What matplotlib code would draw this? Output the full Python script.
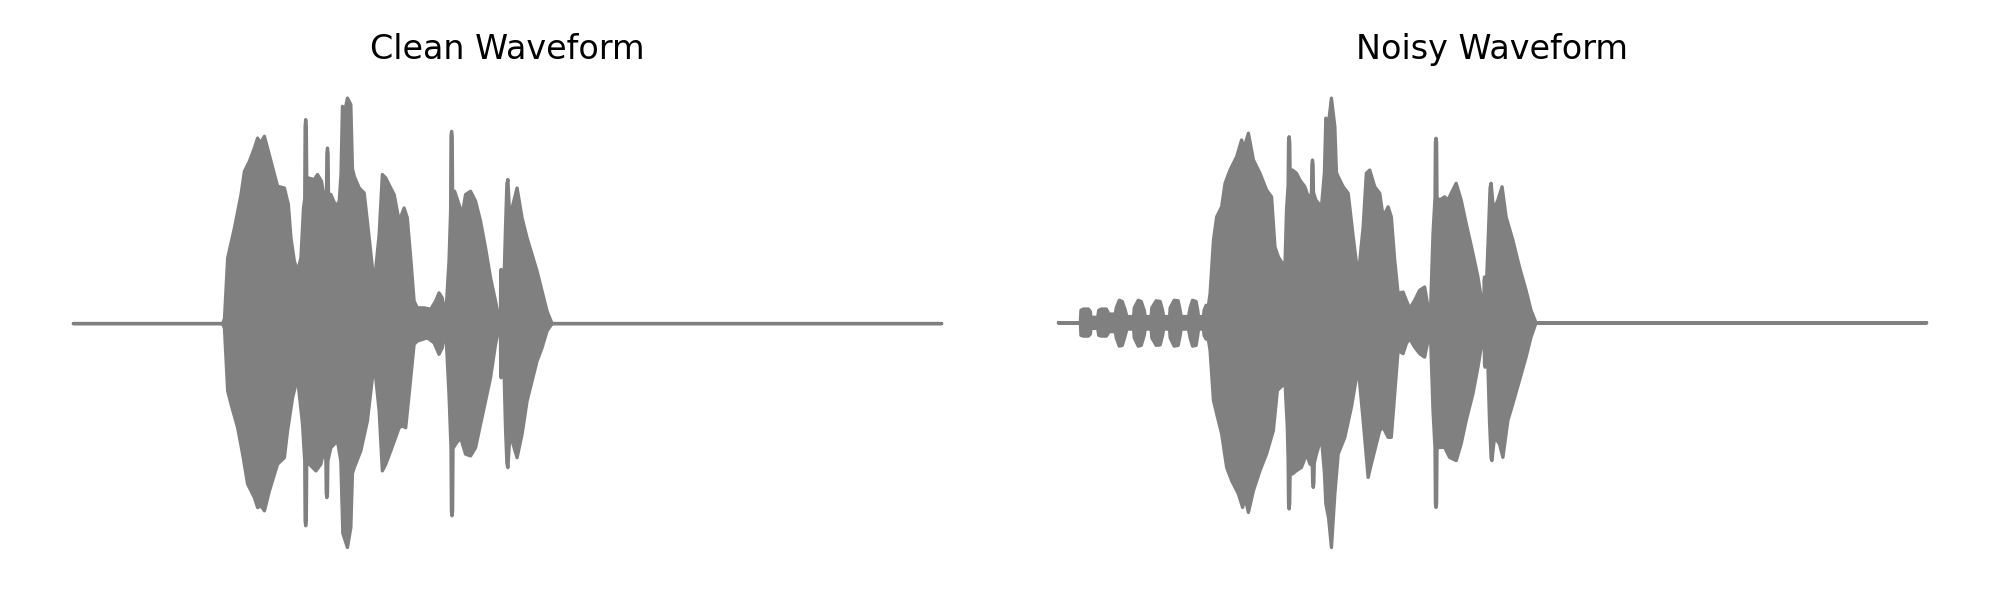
import matplotlib

matplotlib.use("Agg")
import matplotlib.pyplot as plt

# Envelopes of the two waveforms: (time s, amplitude)
DURATION = 4.35

clean_upper = [
    (0.0, 0.0), (0.748, 0.0), (0.757, 0.02), (0.773, 0.263), (0.79, 0.323), (0.807, 0.383),
    (0.84, 0.517), (0.857, 0.61), (0.882, 0.65), (0.907, 0.703), (0.923, 0.743), (0.937, 0.723),
    (0.957, 0.75), (0.99, 0.65), (1.023, 0.55), (1.057, 0.543), (1.077, 0.477), (1.09, 0.343),
    (1.107, 0.25), (1.123, 0.21), (1.14, 0.263), (1.153, 0.463), (1.159, 0.5), (1.161, 0.79),
    (1.164, 0.817), (1.167, 0.79), (1.169, 0.58), (1.177, 0.583), (1.207, 0.577), (1.223, 0.597),
    (1.243, 0.57), (1.257, 0.503), (1.268, 0.52), (1.27, 0.68), (1.273, 0.703), (1.276, 0.68),
    (1.278, 0.52), (1.29, 0.517), (1.315, 0.47), (1.332, 0.49), (1.341, 0.6), (1.348, 0.87),
    (1.362, 0.86), (1.373, 0.903), (1.39, 0.877), (1.398, 0.62), (1.407, 0.59), (1.432, 0.543),
    (1.457, 0.523), (1.482, 0.343), (1.507, 0.157), (1.532, 0.357), (1.548, 0.597), (1.565, 0.583),
    (1.59, 0.543), (1.607, 0.517), (1.632, 0.41), (1.657, 0.463), (1.673, 0.423), (1.69, 0.263),
    (1.707, 0.09), (1.723, 0.063), (1.757, 0.063), (1.79, 0.057), (1.815, 0.09), (1.832, 0.123),
    (1.848, 0.103), (1.865, 0.023), (1.882, 0.25), (1.89, 0.45), (1.892, 0.75), (1.895, 0.77),
    (1.898, 0.75), (1.9, 0.52), (1.91, 0.53), (1.932, 0.477), (1.948, 0.437), (1.965, 0.517),
    (1.99, 0.53), (2.015, 0.49), (2.04, 0.41), (2.065, 0.303), (2.09, 0.183), (2.115, 0.09),
    (2.132, 0.017), (2.14, 0.05), (2.141, 0.2), (2.143, 0.217), (2.145, 0.2), (2.146, 0.05),
    (2.153, 0.037), (2.165, 0.383), (2.172, 0.56), (2.177, 0.577), (2.184, 0.46), (2.198, 0.463),
    (2.223, 0.543), (2.248, 0.423), (2.273, 0.343), (2.298, 0.277), (2.323, 0.21), (2.348, 0.13),
    (2.373, 0.05), (2.398, 0.0), (DURATION, 0.0),
]

clean_lower = [
    (0.0, 0.0), (0.748, 0.0), (0.757, -0.02), (0.773, -0.27), (0.79, -0.323), (0.823, -0.417),
    (0.848, -0.523), (0.873, -0.643), (0.907, -0.697), (0.923, -0.737), (0.94, -0.73),
    (0.957, -0.75), (0.982, -0.67), (1.023, -0.563), (1.057, -0.537), (1.073, -0.43),
    (1.098, -0.297), (1.123, -0.217), (1.148, -0.403), (1.159, -0.55), (1.161, -0.79),
    (1.164, -0.81), (1.167, -0.79), (1.169, -0.56), (1.182, -0.563), (1.215, -0.59), (1.24, -0.563),
    (1.257, -0.497), (1.265, -0.55), (1.267, -0.68), (1.27, -0.697), (1.273, -0.68), (1.275, -0.55),
    (1.29, -0.497), (1.323, -0.47), (1.34, -0.55), (1.35, -0.84), (1.357, -0.857), (1.373, -0.897),
    (1.39, -0.817), (1.398, -0.6), (1.407, -0.577), (1.44, -0.51), (1.473, -0.39), (1.507, -0.157),
    (1.532, -0.35), (1.548, -0.59), (1.565, -0.563), (1.59, -0.51), (1.632, -0.417), (1.648, -0.41),
    (1.665, -0.417), (1.682, -0.283), (1.707, -0.083), (1.723, -0.07), (1.773, -0.057),
    (1.807, -0.077), (1.832, -0.123), (1.848, -0.097), (1.865, -0.017), (1.882, -0.283),
    (1.892, -0.5), (1.894, -0.75), (1.897, -0.77), (1.9, -0.75), (1.902, -0.5), (1.915, -0.483),
    (1.94, -0.457), (1.965, -0.523), (1.99, -0.53), (2.015, -0.497), (2.04, -0.403), (2.065, -0.31),
    (2.09, -0.217), (2.115, -0.083), (2.132, -0.017), (2.14, -0.05), (2.141, -0.2), (2.143, -0.217),
    (2.145, -0.2), (2.146, -0.05), (2.153, -0.043), (2.165, -0.417), (2.172, -0.56), (2.177, -0.577),
    (2.185, -0.47), (2.198, -0.47), (2.223, -0.537), (2.248, -0.443), (2.273, -0.31), (2.298, -0.23),
    (2.323, -0.15), (2.348, -0.097), (2.373, -0.03), (2.398, 0.0), (DURATION, 0.0),
]

noisy_upper = [
    (0.0, 0.0), (0.11, 0.0), (0.113, 0.05), (0.125, 0.055), (0.15, 0.055), (0.16, 0.045),
    (0.163, 0.022), (0.197, 0.022), (0.202, 0.05), (0.215, 0.055), (0.24, 0.055), (0.247, 0.045),
    (0.252, 0.035), (0.285, 0.035), (0.29, 0.06), (0.305, 0.09), (0.32, 0.085), (0.335, 0.05),
    (0.343, 0.025), (0.377, 0.025), (0.38, 0.06), (0.4, 0.09), (0.415, 0.085), (0.43, 0.05),
    (0.435, 0.025), (0.465, 0.025), (0.468, 0.06), (0.49, 0.088), (0.51, 0.085), (0.522, 0.05),
    (0.527, 0.025), (0.557, 0.025), (0.56, 0.06), (0.58, 0.09), (0.6, 0.088), (0.61, 0.05),
    (0.615, 0.025), (0.652, 0.025), (0.66, 0.06), (0.672, 0.09), (0.69, 0.085), (0.698, 0.05),
    (0.702, 0.025), (0.727, 0.025), (0.73, 0.05), (0.74, 0.07), (0.75, 0.06), (0.76, 0.117),
    (0.777, 0.33), (0.793, 0.423), (0.818, 0.463), (0.835, 0.557), (0.86, 0.61), (0.893, 0.663),
    (0.918, 0.73), (0.93, 0.697), (0.952, 0.757), (0.977, 0.65), (1.01, 0.597), (1.043, 0.53),
    (1.068, 0.503), (1.085, 0.303), (1.102, 0.263), (1.123, 0.237), (1.135, 0.223), (1.143, 0.45),
    (1.151, 0.55), (1.153, 0.72), (1.156, 0.743), (1.159, 0.72), (1.161, 0.6), (1.173, 0.61),
    (1.193, 0.597), (1.21, 0.57), (1.235, 0.543), (1.257, 0.49), (1.268, 0.52), (1.27, 0.63),
    (1.273, 0.65), (1.276, 0.63), (1.278, 0.52), (1.29, 0.49), (1.318, 0.463), (1.333, 0.6),
    (1.34, 0.817), (1.354, 0.8), (1.368, 0.897), (1.385, 0.783), (1.393, 0.6), (1.402, 0.583),
    (1.427, 0.543), (1.452, 0.517), (1.477, 0.343), (1.502, 0.183), (1.527, 0.383), (1.543, 0.597),
    (1.56, 0.61), (1.585, 0.543), (1.61, 0.517), (1.627, 0.423), (1.652, 0.463), (1.668, 0.423),
    (1.685, 0.25), (1.702, 0.117), (1.727, 0.123), (1.743, 0.09), (1.76, 0.057), (1.785, 0.09),
    (1.81, 0.13), (1.835, 0.143), (1.852, 0.063), (1.863, 0.01), (1.877, 0.357), (1.887, 0.5),
    (1.889, 0.72), (1.892, 0.737), (1.895, 0.72), (1.897, 0.5), (1.91, 0.49), (1.935, 0.503),
    (1.952, 0.49), (1.968, 0.517), (1.993, 0.557), (2.018, 0.49), (2.043, 0.397), (2.077, 0.277),
    (2.102, 0.183), (2.127, 0.057), (2.132, 0.08), (2.133, 0.17), (2.135, 0.183), (2.137, 0.17),
    (2.138, 0.08), (2.143, 0.117), (2.152, 0.303), (2.163, 0.54), (2.168, 0.557), (2.18, 0.45),
    (2.202, 0.49), (2.223, 0.543), (2.243, 0.423), (2.277, 0.33), (2.31, 0.223), (2.343, 0.13),
    (2.368, 0.05), (2.393, 0.0), (DURATION, 0.0),
]

noisy_lower = [
    (0.0, 0.0), (0.11, 0.0), (0.113, -0.05), (0.125, -0.053), (0.15, -0.053), (0.16, -0.045),
    (0.163, -0.022), (0.197, -0.022), (0.202, -0.05), (0.215, -0.053), (0.24, -0.053),
    (0.247, -0.045), (0.252, -0.035), (0.285, -0.035), (0.29, -0.06), (0.305, -0.093),
    (0.32, -0.09), (0.335, -0.05), (0.343, -0.025), (0.377, -0.025), (0.38, -0.06), (0.4, -0.093),
    (0.415, -0.09), (0.43, -0.05), (0.435, -0.025), (0.465, -0.025), (0.468, -0.06), (0.49, -0.09),
    (0.51, -0.088), (0.522, -0.05), (0.527, -0.025), (0.557, -0.025), (0.56, -0.06), (0.58, -0.093),
    (0.6, -0.09), (0.61, -0.05), (0.615, -0.025), (0.652, -0.025), (0.66, -0.06), (0.672, -0.093),
    (0.69, -0.09), (0.698, -0.05), (0.702, -0.025), (0.727, -0.025), (0.73, -0.05), (0.74, -0.065),
    (0.75, -0.06), (0.76, -0.11), (0.777, -0.31), (0.793, -0.363), (0.818, -0.443), (0.843, -0.577),
    (0.868, -0.63), (0.902, -0.683), (0.923, -0.737), (0.935, -0.697), (0.952, -0.757),
    (0.977, -0.67), (1.01, -0.59), (1.043, -0.523), (1.077, -0.43), (1.097, -0.27), (1.123, -0.25),
    (1.135, -0.23), (1.147, -0.417), (1.151, -0.55), (1.153, -0.72), (1.156, -0.743),
    (1.159, -0.72), (1.161, -0.6), (1.173, -0.603), (1.193, -0.59), (1.218, -0.577),
    (1.243, -0.523), (1.26, -0.563), (1.272, -0.57), (1.274, -0.64), (1.277, -0.657),
    (1.28, -0.64), (1.282, -0.56), (1.293, -0.523), (1.318, -0.457), (1.333, -0.6), (1.34, -0.723),
    (1.354, -0.78), (1.368, -0.897), (1.385, -0.683), (1.402, -0.523), (1.435, -0.457),
    (1.468, -0.337), (1.502, -0.177), (1.527, -0.39), (1.552, -0.617), (1.568, -0.563),
    (1.61, -0.43), (1.627, -0.417), (1.652, -0.457), (1.668, -0.457), (1.685, -0.283),
    (1.702, -0.11), (1.727, -0.123), (1.743, -0.083), (1.76, -0.063), (1.785, -0.097),
    (1.81, -0.123), (1.835, -0.137), (1.852, -0.07), (1.863, -0.017), (1.877, -0.35),
    (1.887, -0.5), (1.889, -0.72), (1.892, -0.737), (1.895, -0.72), (1.897, -0.5), (1.91, -0.497),
    (1.935, -0.497), (1.96, -0.537), (1.993, -0.55), (2.018, -0.483), (2.043, -0.39),
    (2.077, -0.283), (2.102, -0.177), (2.127, -0.057), (2.134, -0.08), (2.135, -0.165),
    (2.138, -0.177), (2.141, -0.165), (2.142, -0.08), (2.148, -0.057), (2.16, -0.39),
    (2.168, -0.54), (2.172, -0.55), (2.185, -0.457), (2.21, -0.483), (2.227, -0.537),
    (2.252, -0.39), (2.277, -0.323), (2.31, -0.23), (2.343, -0.137), (2.368, -0.057),
    (2.393, 0.0), (DURATION, 0.0),
]

titles = ["Clean Waveform", "Noisy Waveform"]
envelopes = [(clean_upper, clean_lower), (noisy_upper, noisy_lower)]

fig, axes = plt.subplots(1, 2, figsize=(10, 3), dpi=200)
for ax, title, (upper, lower) in zip(axes, titles, envelopes):
    outline = upper + lower[::-1]
    xs = [t for t, _ in outline]
    ys = [a for _, a in outline]
    ax.fill(xs, ys, facecolor="gray", edgecolor="gray", linewidth=1.2, joinstyle="round")
    ax.set_title(title)
    ax.axis("off")

plt.tight_layout()
# nudge the panels down a touch so the titles sit where the reference has them
fig.subplots_adjust(top=fig.subplotpars.top - 0.005)
plt.savefig("out.png", dpi=200)
